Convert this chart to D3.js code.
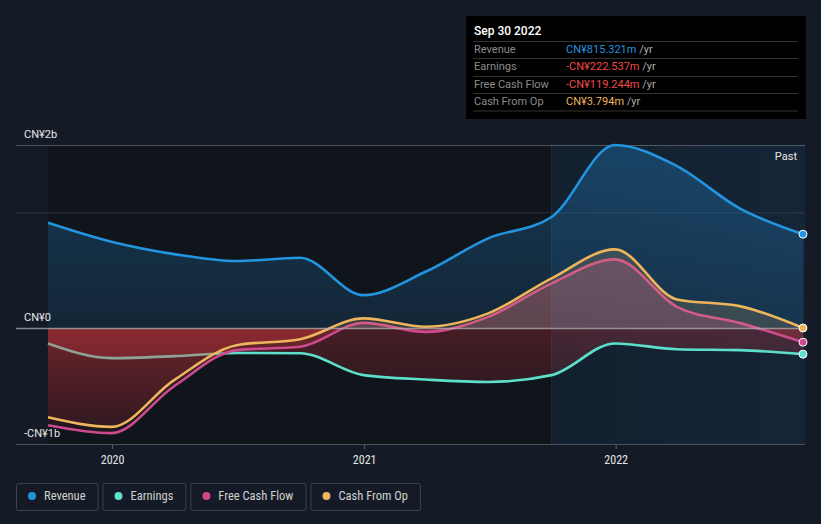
<!DOCTYPE html>
<html><head><meta charset="utf-8">
<script src="https://cdn.jsdelivr.net/npm/d3@7"></script>
<style>
html,body{margin:0;padding:0;background:#151b26;}
svg{display:block;font-family:Roboto,"Noto Sans",sans-serif;}
</style></head>
<body>
<svg id="c" width="821" height="524"></svg>
<script>
const dates = ["2019-09-30","2019-12-31","2020-03-31","2020-06-30","2020-09-30","2020-12-31","2021-03-31","2021-06-30","2021-09-30","2021-12-31","2022-03-31","2022-06-30","2022-09-30"];
const revenue  = [914, 750, 643, 583, 611, 288, 490, 779, 964, 1587, 1405, 1039, 815.321];
const earnings = [-130, -257, -240, -212, -215, -404, -442, -463, -404, -130, -180, -188, -222.537];
const fcf      = [-837, -906, -500, -188, -159, 48, -30, 100, 390, 597, 187, 48, -119.244];
const cfo      = [-768, -852, -448, -145, -93, 87, 14, 130, 433, 684, 251, 193, 3.794];
const seriesNames = ["Revenue","Earnings","Free Cash Flow","Cash From Op"];
const seriesColors = ["#2394df","#5ce0cb","#cc4a8d","#efb55c"];
const tooltipTitle = "Sep 30 2022";
const tooltipValues = ["CN¥815.321m","-CN¥222.537m","-CN¥119.244m","CN¥3.794m"];
const tooltipValueColors = ["#2394df","#f04a4a","#f04a4a","#efb55c"];
const yTickLabels = [{v:1587,t:"CN¥2b"},{v:0,t:"CN¥0"},{v:-1000,t:"-CN¥1b"}];
const xTickYears = [2020,2021,2022];

const svg = d3.select("#c");
const parse = d3.timeParse("%Y-%m-%d");
const D = dates.map(parse);
const x = d3.scaleTime().domain([D[0], D[D.length-1]]).range([48, 803]);
const y = d3.scaleLinear().domain([-1000, d3.max(revenue)]).range([444, 145]);
const y0 = y(0);
const plotL = 16, plotR = 805, plotT = y.range()[1], plotB = y.range()[0];
const narrow = "'Liberation Sans Narrow','Roboto Condensed','Arial Narrow',Roboto,sans-serif";

const defs = svg.append("defs");
const pg = defs.append("linearGradient").attr("id","pastG").attr("x1",0).attr("x2",1).attr("y1",0).attr("y2",0);
pg.append("stop").attr("offset","0%").attr("stop-color","#13202f");
pg.append("stop").attr("offset","100%").attr("stop-color","#152537");

defs.append("clipPath").attr("id","posClip").append("rect").attr("x",0).attr("y",0).attr("width",821).attr("height",y0);
defs.append("clipPath").attr("id","negClip").append("rect").attr("x",0).attr("y",y0).attr("width",821).attr("height",524-y0);

function posGrad(id,color,top,bottom){
  const g = defs.append("linearGradient").attr("id",id).attr("gradientUnits","userSpaceOnUse")
    .attr("x1",0).attr("x2",0).attr("y1",plotT).attr("y2",y0);
  g.append("stop").attr("offset","0%").attr("stop-color",color).attr("stop-opacity",top);
  g.append("stop").attr("offset","100%").attr("stop-color",color).attr("stop-opacity",bottom);
}
posGrad("pos0",seriesColors[0],0.30,0.14);
posGrad("pos1",seriesColors[1],0.2,0.1);
posGrad("pos2",seriesColors[2],0.32,0.26);
posGrad("pos3",seriesColors[3],0.2,0.16);
const ng = defs.append("linearGradient").attr("id","negG").attr("gradientUnits","userSpaceOnUse")
  .attr("x1",0).attr("x2",0).attr("y1",y0).attr("y2",plotB);
ng.append("stop").attr("offset","0%").attr("stop-color","#e5393f").attr("stop-opacity",0.25);
ng.append("stop").attr("offset","100%").attr("stop-color","#e5393f").attr("stop-opacity",0.05);

const pastStart = x(D[D.length-5]);
svg.append("rect").attr("x",x(D[0])).attr("y",plotT).attr("width",pastStart-x(D[0])).attr("height",plotB-plotT).attr("fill","#10141b");
svg.append("rect").attr("x",pastStart).attr("y",plotT).attr("width",plotR-pastStart).attr("height",plotB-plotT).attr("fill","url(#pastG)");
svg.append("line").attr("x1",pastStart).attr("x2",pastStart).attr("y1",plotT).attr("y2",plotB).attr("stroke","#ffffff").attr("stroke-opacity",0.06);

svg.append("line").attr("x1",plotL).attr("x2",plotR).attr("y1",y(1000)).attr("y2",y(1000)).attr("stroke","#ffffff").attr("stroke-opacity",0.1);
svg.append("line").attr("x1",plotL).attr("x2",plotR).attr("y1",plotT+0.5).attr("y2",plotT+0.5).attr("stroke","#ffffff").attr("stroke-opacity",0.25);

const all = [revenue, earnings, fcf, cfo];
const area = d3.area().x((d,i)=>x(D[i])).y0(y0).y1(d=>y(d)).curve(d3.curveMonotoneX);
const line = d3.line().x((d,i)=>x(D[i])).y(d=>y(d)).curve(d3.curveMonotoneX);

all.forEach((vals,k)=>{
  svg.append("path").attr("d",area(vals)).attr("fill",`url(#pos${k})`).attr("clip-path","url(#posClip)");
  svg.append("path").attr("d",area(vals)).attr("fill","url(#negG)").attr("clip-path","url(#negClip)");
  svg.append("path").attr("d",line(vals)).attr("fill","none").attr("stroke",seriesColors[k]).attr("stroke-width",2.6);
});

svg.append("line").attr("x1",plotL).attr("x2",plotR).attr("y1",y0).attr("y2",y0).attr("stroke","#b0b0b0").attr("stroke-opacity",0.75).attr("stroke-width",1.5);
const xAxis = d3.axisBottom(x).tickValues(xTickYears.map(yy=>new Date(yy,0,1))).tickFormat(d3.timeFormat("%Y")).tickSize(5).tickPadding(6);
const gx = svg.append("g").attr("transform",`translate(0,${plotB})`).call(xAxis);
gx.select(".domain").remove();
gx.selectAll(".tick line").attr("stroke","#5a606b");
gx.selectAll(".tick text").attr("fill","#e6e6e6").attr("font-size",12).attr("font-family",narrow);
svg.append("line").attr("x1",plotL).attr("x2",plotR).attr("y1",plotB+0.5).attr("y2",plotB+0.5).attr("stroke","#4a505b");

all.forEach((vals,k)=>{
  svg.append("circle").attr("cx",x(D[D.length-1])).attr("cy",y(vals[vals.length-1])).attr("r",4)
    .attr("fill",seriesColors[k]).attr("stroke","#ffffff").attr("stroke-width",1);
});

yTickLabels.forEach(t=>{
  svg.append("text").attr("x",24).attr("y",y(t.v)-7).attr("fill","#e6e6e6").attr("font-size",11).text(t.t);
});

svg.append("text").attr("x",797).attr("y",160).attr("text-anchor","end").attr("fill","#e6e6e6").attr("font-size",11).text("Past");

const tt = svg.append("g");
tt.append("rect").attr("x",466).attr("y",16).attr("width",340).attr("height",103).attr("fill","#000000");
tt.append("text").attr("x",474).attr("y",35).attr("fill","#ffffff").attr("font-size",12).attr("font-weight",500).text(tooltipTitle);
const lineYs = [41.5,58.5,76.5,93.5,111];
lineYs.forEach(ly=>tt.append("line").attr("x1",473).attr("x2",798).attr("y1",ly).attr("y2",ly).attr("stroke","#333333"));
seriesNames.forEach((n,i)=>{
  const by = 53 + i*17.4;
  tt.append("text").attr("x",474).attr("y",by).attr("fill","#8c8c8c").attr("font-size",11).text(n);
  const t = tt.append("text").attr("x",566).attr("y",by).attr("font-size",11);
  t.append("tspan").attr("fill",tooltipValueColors[i]).text(tooltipValues[i]);
  t.append("tspan").attr("fill","#aaaaaa").text(" /yr");
});

const lg = svg.append("g");
let lx = 16;
seriesNames.forEach((n,i)=>{
  const g = lg.append("g");
  const txt = g.append("text").attr("x",lx+28).attr("y",500).attr("fill","#d0d0d0").attr("font-size",12.5).attr("font-family",narrow).text(n);
  const w = txt.node().getComputedTextLength();
  const bw = w + 28 + 12;
  g.insert("rect","text").attr("x",lx+0.5).attr("y",483.5).attr("width",bw).attr("height",27).attr("rx",2)
    .attr("fill","none").attr("stroke","#3c424d");
  g.append("circle").attr("cx",lx+16).attr("cy",496).attr("r",4).attr("fill",seriesColors[i]);
  lx += bw + 5;
});
</script>
</body></html>
